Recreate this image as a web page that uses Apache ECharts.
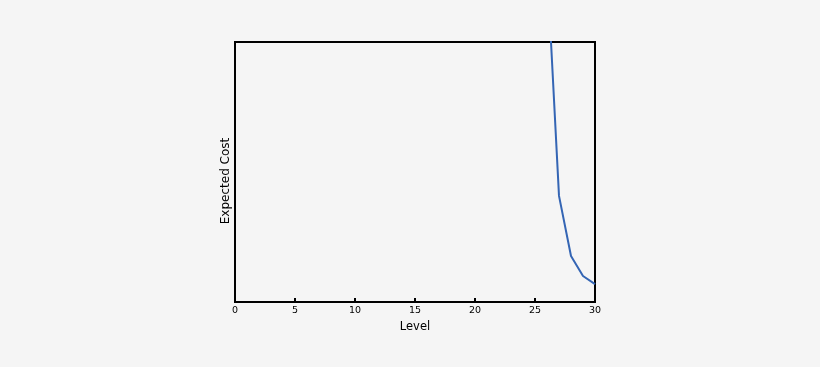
<!DOCTYPE html>
<html><head><meta charset="utf-8">
<script src="https://cdn.jsdelivr.net/npm/echarts@6/dist/echarts.min.js"></script>
<style>html,body{margin:0;padding:0;background:#f5f5f5}#c{width:820px;height:367px}</style>
</head><body><div id="c"></div>
<script>
const levels = [26, 27, 28, 29, 30];
const expectedCost = [129.6, 40.8, 17.7, 10.0, 6.9];
const xTicks = [0, 5, 10, 15, 20, 25, 30];

const chart = echarts.init(document.getElementById('c'));
chart.setOption({
  backgroundColor: '#f5f5f5',
  animation: false,
  grid: {left: 235, right: 225, top: 42, bottom: 65, show: true, borderColor: '#000', borderWidth: 2, backgroundColor: 'transparent'},
  xAxis: {
    type: 'value', min: 0, max: 30, interval: 5,
    name: 'Level', nameLocation: 'middle', nameGap: 13,
    nameTextStyle: {fontFamily: 'DejaVu Sans', fontSize: 11.5, color: '#000'},
    axisLine: {show: true, lineStyle: {color: '#000', width: 2}},
    axisTick: {show: true, inside: true, length: 4, lineStyle: {color: '#000', width: 2}},
    axisLabel: {fontFamily: 'DejaVu Sans', fontSize: 9.5, color: '#000', margin: 4,
      formatter: v => xTicks.includes(v) ? String(v) : ''},
    splitLine: {show: false}
  },
  yAxis: {
    type: 'value', min: 0, max: 100,
    name: 'Expected Cost', nameLocation: 'middle', nameGap: 3,
    nameTextStyle: {fontFamily: 'DejaVu Sans', fontSize: 12, color: '#000', padding: [0, 18, 0, 0]},
    axisLine: {show: true, lineStyle: {color: '#000', width: 2}},
    axisTick: {show: false}, axisLabel: {show: false}, splitLine: {show: false}
  },
  series: [{
    type: 'line', data: levels.map((l, i) => [l, expectedCost[i]]),
    showSymbol: false, clip: true,
    lineStyle: {color: '#3465b4', width: 2}
  }]
});
</script></body></html>
